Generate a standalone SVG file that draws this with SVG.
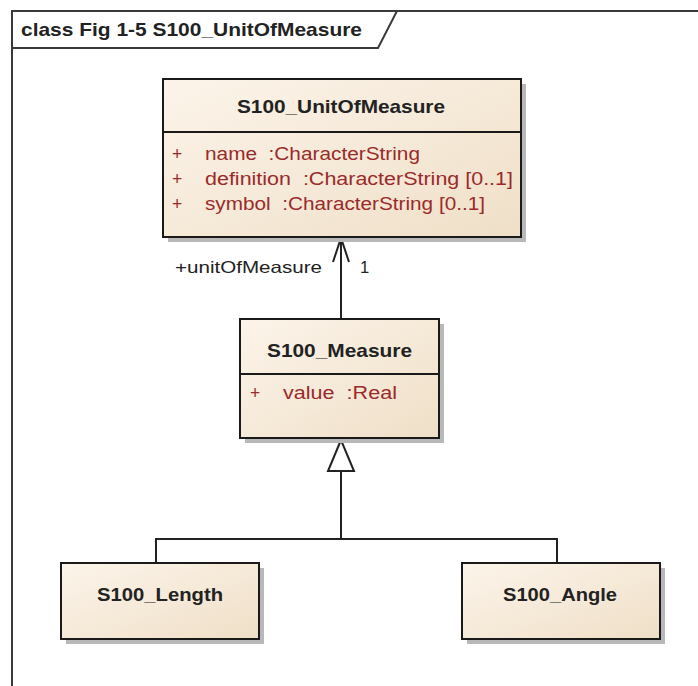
<svg xmlns="http://www.w3.org/2000/svg" width="698" height="686" viewBox="0 0 698 686">
<defs>
<linearGradient id="cls" x1="0" y1="0" x2="1" y2="1">
<stop offset="0" stop-color="#fcf4ea"/>
<stop offset="1" stop-color="#efdfc7"/>
</linearGradient>
</defs>
<style>
.frame{fill:none;stroke:#3a3a3a;stroke-width:2}
.box{fill:url(#cls);stroke:#1a1a1a;stroke-width:2}
.shadow{fill:#b8b8b8}
.div{stroke:#1a1a1a;stroke-width:2}
.name{font-family:"Liberation Sans",Arial,sans-serif;font-weight:bold;font-size:19px;fill:#222}
.attr{font-family:"Liberation Sans",Arial,sans-serif;font-size:17.5px;fill:#9b2a2a;white-space:pre}
.lbl{font-family:"Liberation Sans",Arial,sans-serif;font-size:16.5px;fill:#222}
.title{font-family:"Liberation Sans",Arial,sans-serif;font-weight:bold;font-size:18.5px;fill:#222}
.conn{fill:none;stroke:#222;stroke-width:2}
</style>
<rect width="698" height="686" fill="#ffffff"/>
<g id="frame">
<path class="frame" d="M12,686 L12,11 L698,11"/>
<path d="M12,11 L397,11 L378,48 L12,48 Z" fill="#ffffff" stroke="#3a3a3a" stroke-width="2"/>
<text class="title" x="21" y="36" textLength="341" lengthAdjust="spacingAndGlyphs">class Fig 1-5 S100_UnitOfMeasure</text>
</g>
<g id="connectors">
<line class="conn" x1="341" y1="319" x2="341" y2="238"/>
<polyline class="conn" points="333,262 341,238 349,262"/>
<text class="lbl" x="175" y="273" textLength="147" lengthAdjust="spacingAndGlyphs">+unitOfMeasure</text>
<text class="lbl" x="360" y="273">1</text>
<polyline class="conn" points="156,563 156,539 557,539 557,563"/>
<line class="conn" x1="341" y1="539" x2="341" y2="471"/>
<polygon points="341,440 328,471 354,471" fill="#ffffff" stroke="#222" stroke-width="2"/>
</g>
<g id="S100_UnitOfMeasure">
<rect class="shadow" x="168" y="84" width="358" height="158"/>
<rect class="box" x="163" y="79" width="358" height="158"/>
<line class="div" x1="163" y1="132" x2="521" y2="132"/>
<text class="name" x="237" y="113" textLength="208" lengthAdjust="spacingAndGlyphs">S100_UnitOfMeasure</text>
<text class="attr" x="172" y="160">+</text>
<text class="attr" x="205" y="160" textLength="215" lengthAdjust="spacingAndGlyphs">name  :CharacterString</text>
<text class="attr" x="172" y="185">+</text>
<text class="attr" x="205" y="185" textLength="308" lengthAdjust="spacingAndGlyphs">definition  :CharacterString [0..1]</text>
<text class="attr" x="172" y="210">+</text>
<text class="attr" x="205" y="210" textLength="280" lengthAdjust="spacingAndGlyphs">symbol  :CharacterString [0..1]</text>
</g>
<g id="S100_Measure">
<rect class="shadow" x="245" y="324" width="199" height="119"/>
<rect class="box" x="240" y="319" width="199" height="119"/>
<line class="div" x1="240" y1="374" x2="439" y2="374"/>
<text class="name" x="267" y="357" textLength="145" lengthAdjust="spacingAndGlyphs">S100_Measure</text>
<text class="attr" x="250" y="399">+</text>
<text class="attr" x="283" y="399" textLength="114" lengthAdjust="spacingAndGlyphs">value  :Real</text>
</g>
<g id="S100_Length">
<rect class="shadow" x="66" y="568" width="198" height="76"/>
<rect class="box" x="61" y="563" width="198" height="76"/>
<text class="name" x="97" y="601" textLength="126" lengthAdjust="spacingAndGlyphs">S100_Length</text>
</g>
<g id="S100_Angle">
<rect class="shadow" x="467" y="568" width="198" height="76"/>
<rect class="box" x="462" y="563" width="198" height="76"/>
<text class="name" x="503" y="601" textLength="114" lengthAdjust="spacingAndGlyphs">S100_Angle</text>
</g>
</svg>
